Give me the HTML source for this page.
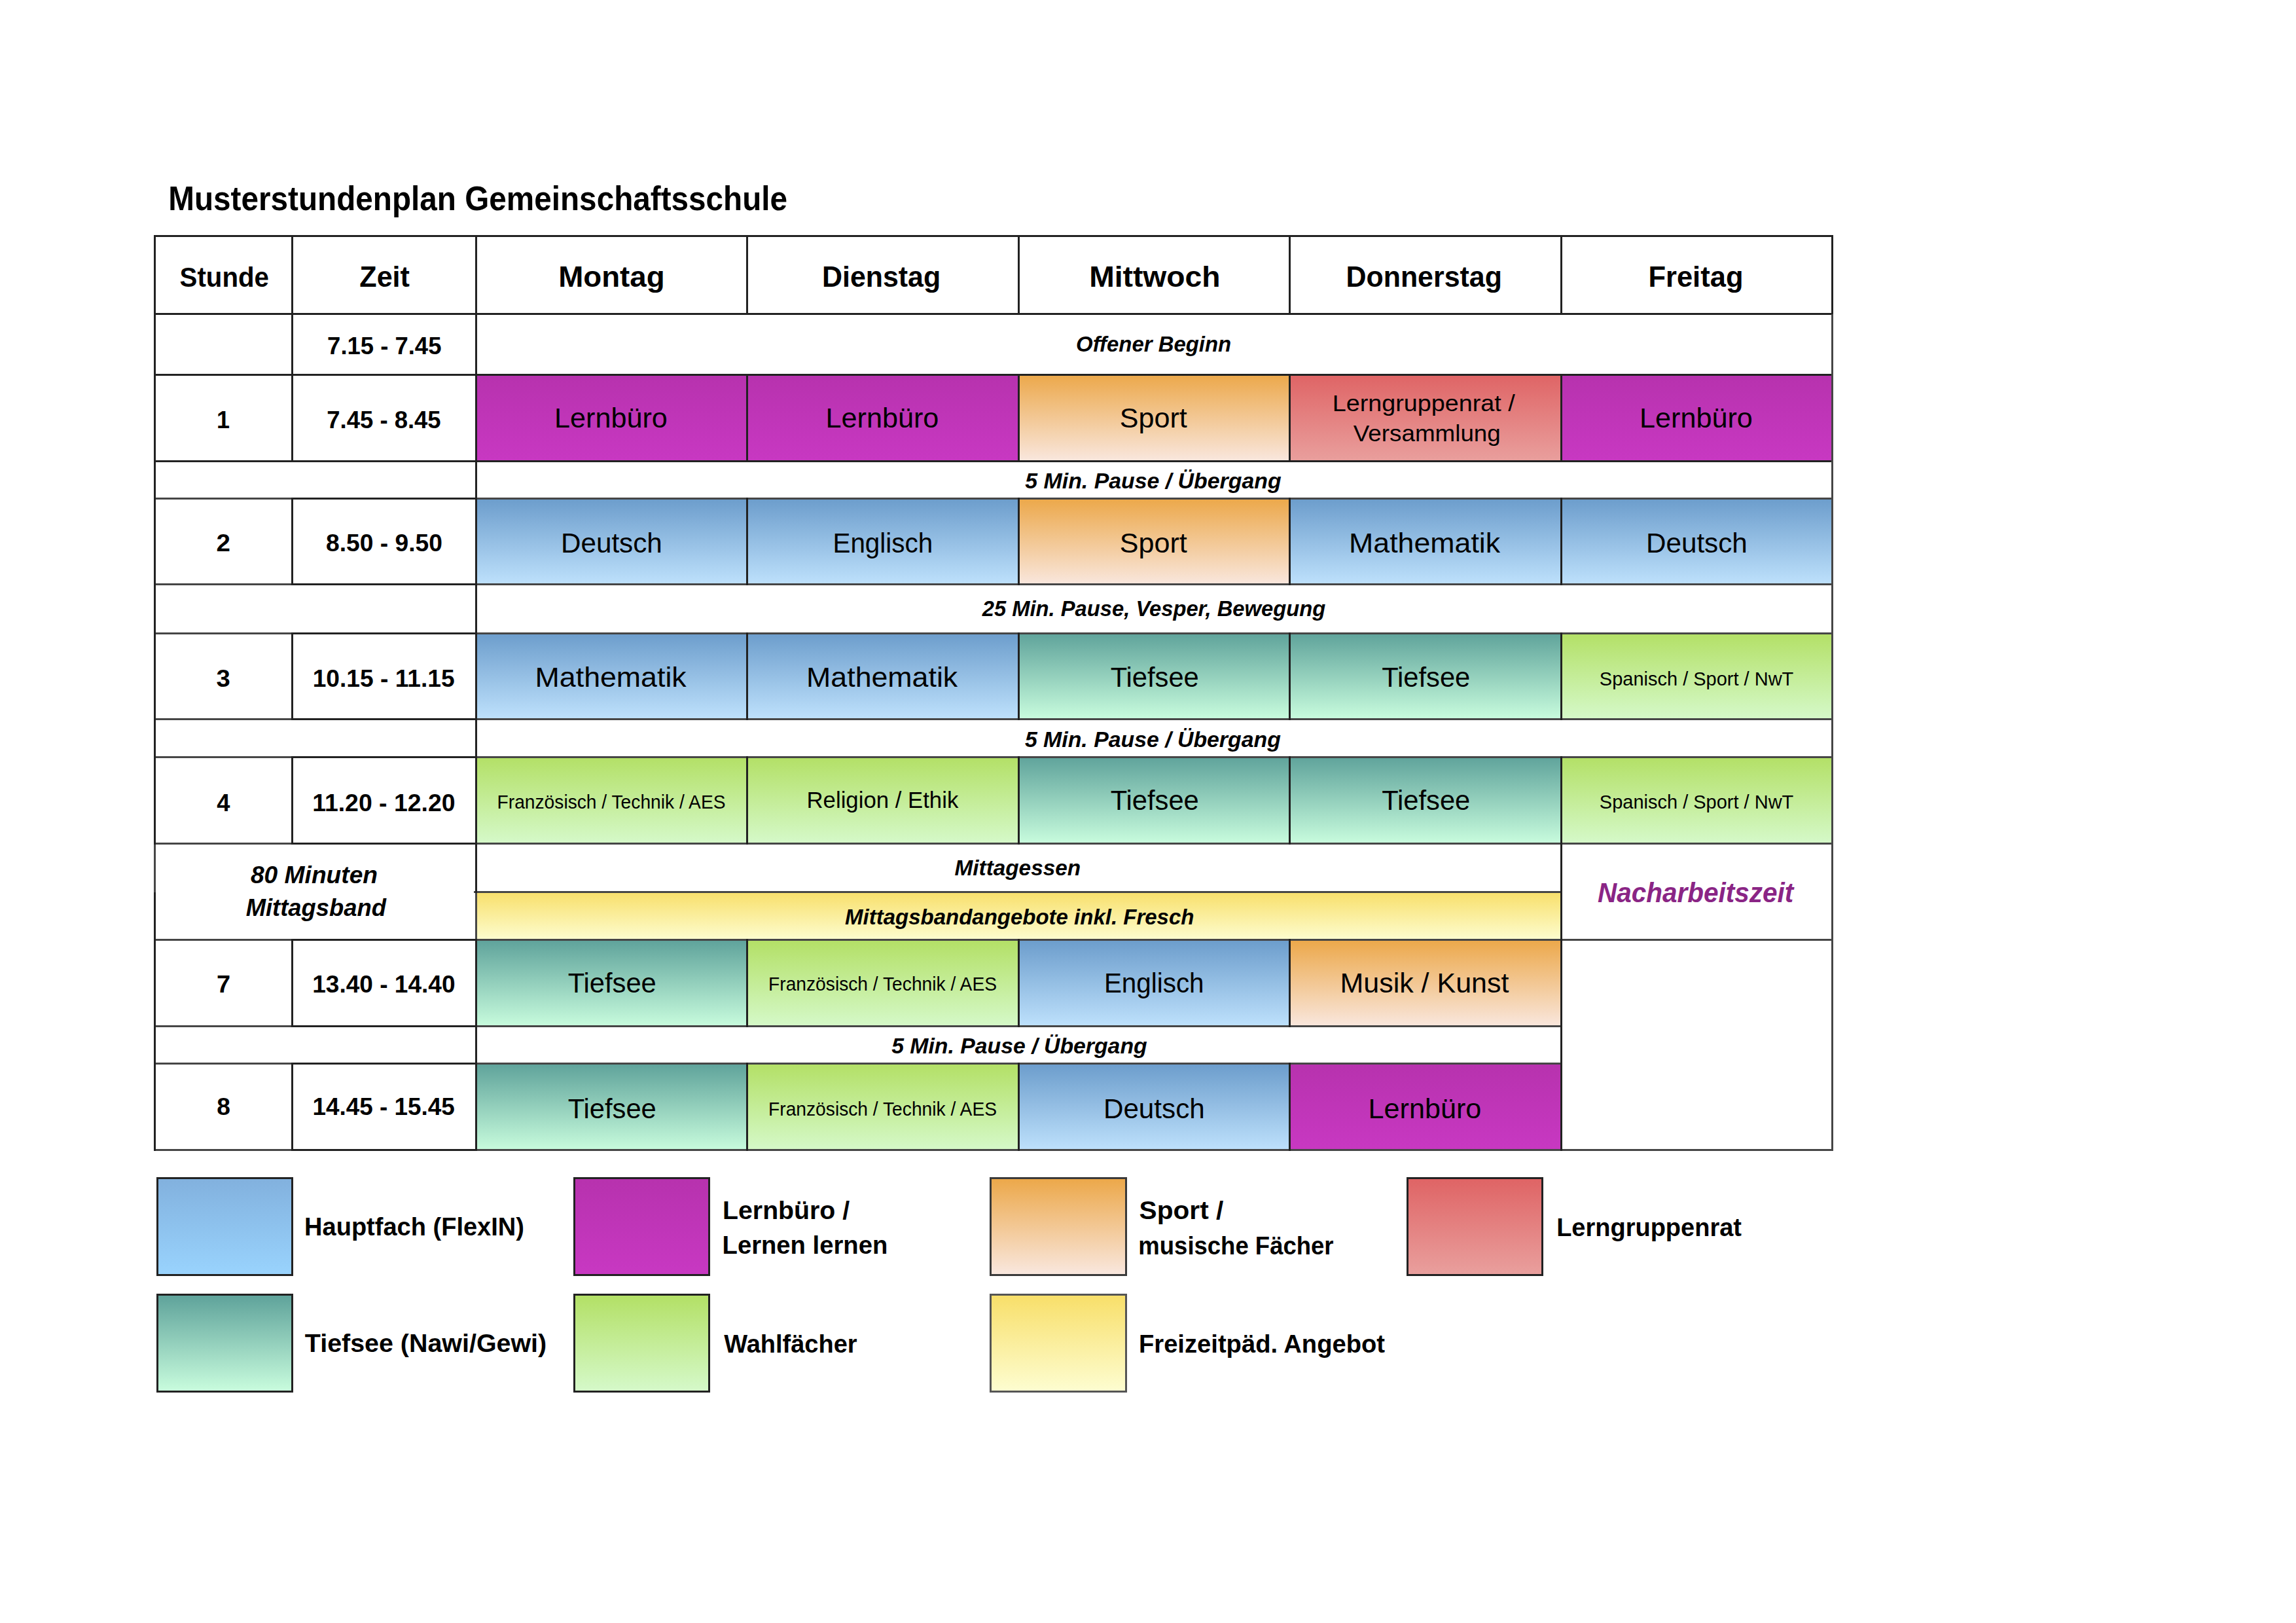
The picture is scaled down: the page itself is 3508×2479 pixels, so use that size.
<!DOCTYPE html>
<html lang="de">
<head>
<meta charset="utf-8">
<title>Musterstundenplan Gemeinschaftsschule</title>
<style>
html,body{margin:0;padding:0;background:#fff;}
body{width:3508px;height:2479px;position:relative;overflow:hidden;font-family:"Liberation Sans",sans-serif;color:#000;}
.c{position:absolute;display:flex;flex-direction:column;align-items:center;justify-content:center;text-align:center;white-space:nowrap;}
.c span,.lg span{display:block;}
.lg{position:absolute;display:flex;flex-direction:column;align-items:flex-start;justify-content:center;white-space:nowrap;}
.lg span{transform-origin:0 50%;}
.bx{position:absolute;box-sizing:border-box;border:3.0px solid #222222;}
.l{position:absolute;background:#222222;}
.t{position:absolute;white-space:nowrap;transform-origin:0 50%;}
.blue{background:linear-gradient(to bottom,#6c9dcc,#bee1fc);}
.blue2{background:linear-gradient(to bottom,#82b1de,#99d3fd);}
.mag{background:linear-gradient(to bottom,#b732ae,#c838c2);}
.org{background:linear-gradient(to bottom,#eca84a,#f9e7de);}
.red{background:linear-gradient(to bottom,#df6465,#e99f9d);}
.teal{background:linear-gradient(to bottom,#5fa39b,#c8fcdd);}
.grn{background:linear-gradient(to bottom,#b3e066,#d5f9c9);}
.yel{background:linear-gradient(to bottom,#f8df6a,#fdfdd0);}
.s-title{font-weight:bold;font-style:normal;font-size:50.9px;line-height:67px;}
.s-hS{font-weight:bold;font-style:normal;font-size:42.6px;line-height:56px;}
.s-hD{font-weight:bold;font-style:normal;font-size:44.2px;line-height:60px;}
.s-num{font-weight:bold;font-style:normal;font-size:37.0px;line-height:49px;}
.s-bi{font-weight:bold;font-style:italic;font-size:33.4px;line-height:46px;}
.s-cell{font-weight:normal;font-style:normal;font-size:42.3px;line-height:56px;}
.s-small{font-weight:normal;font-style:normal;font-size:29.4px;line-height:39px;}
.s-mid{font-weight:normal;font-style:normal;font-size:35.6px;line-height:46px;}
.s-mid2{font-weight:normal;font-style:normal;font-size:34.8px;line-height:46.0px;}
.s-mb{font-weight:bold;font-style:italic;font-size:36.0px;line-height:49.8px;}
.s-nach{font-weight:bold;font-style:italic;font-size:42.0px;line-height:56px;}
.s-leg{font-weight:bold;font-style:normal;font-size:39.5px;line-height:53.7px;}
</style>
</head>
<body>
<div class="lg s-title" id="title" style="left:258.0px;top:263.4px;height:80px;"><span style="transform:translate(-0.75px,0.00px) scaleX(0.9369);">Musterstundenplan Gemeinschaftsschule</span></div>
<div id="plan">
<div class="c s-hS" style="left:236.3px;top:360.9px;width:209.9px;height:118.1px;"><span style="transform:translate(1.57px,3.19px) scaleX(0.9439);">Stunde</span></div>
<div class="c s-hD" style="left:446.2px;top:360.9px;width:281.2px;height:118.1px;"><span style="transform:translate(0.34px,2.63px) scaleX(0.9754);">Zeit</span></div>
<div class="c s-hD" style="left:727.4px;top:360.9px;width:414.5px;height:118.1px;"><span style="transform:translate(-0.16px,2.63px) scaleX(1.0345);">Montag</span></div>
<div class="c s-hD" style="left:1141.9px;top:360.9px;width:414.5px;height:118.1px;"><span style="transform:translate(-2.73px,2.63px) scaleX(0.9708);">Dienstag</span></div>
<div class="c s-hD" style="left:1556.4px;top:360.9px;width:414.4px;height:118.1px;"><span style="transform:translate(0.59px,2.63px) scaleX(1.0464);">Mittwoch</span></div>
<div class="c s-hD" style="left:1970.8px;top:360.9px;width:414.6px;height:118.1px;"><span style="transform:translate(-2.07px,2.63px) scaleX(0.9709);">Donnerstag</span></div>
<div class="c s-hD" style="left:2385.4px;top:360.9px;width:414.5px;height:118.1px;"><span style="transform:translate(-1.72px,2.63px) scaleX(0.9848);">Freitag</span></div>
<div class="c s-cell" style="left:236.3px;top:479.0px;width:209.9px;height:93.4px;"></div>
<div class="c s-num" style="left:446.2px;top:479.0px;width:281.2px;height:93.4px;"><span style="transform:translate(0.81px,3.48px) scaleX(0.9853);">7.15 - 7.45</span></div>
<div class="c s-bi" style="left:727.4px;top:479.0px;width:2072.5px;height:93.4px;"><span style="transform:translate(-0.68px,0.23px) scaleX(0.9852);">Offener Beginn</span></div>
<div class="c s-num" style="left:236.3px;top:572.4px;width:209.9px;height:131.9px;"><span style="transform:translate(-0.39px,3.03px) scaleX(0.9721);">1</span></div>
<div class="c s-num" style="left:446.2px;top:572.4px;width:281.2px;height:131.9px;"><span style="transform:translate(0.01px,3.03px) scaleX(0.9853);">7.45 - 8.45</span></div>
<div class="c s-cell mag" style="left:727.4px;top:572.4px;width:414.5px;height:131.9px;"><span style="transform:translate(-1.20px,0.99px) scaleX(1.0205);">Lernbüro</span></div>
<div class="c s-cell mag" style="left:1141.9px;top:572.4px;width:414.5px;height:131.9px;"><span style="transform:translate(-0.70px,0.99px) scaleX(1.0205);">Lernbüro</span></div>
<div class="c s-cell org" style="left:1556.4px;top:572.4px;width:414.4px;height:131.9px;"><span style="transform:translate(-1.25px,0.99px) scaleX(1.0184);">Sport</span></div>
<div class="c s-mid2 red" style="left:1970.8px;top:572.4px;width:414.6px;height:131.9px;"><span style="transform:translate(-2.46px,0.99px) scaleX(1.0839);">Lerngruppenrat /</span><span style="transform:translate(1.93px,0.99px) scaleX(1.0577);">Versammlung</span></div>
<div class="c s-cell mag" style="left:2385.4px;top:572.4px;width:414.5px;height:131.9px;"><span style="transform:translate(-1.20px,0.99px) scaleX(1.0205);">Lernbüro</span></div>
<div class="c s-bi" style="left:727.4px;top:704.3px;width:2072.5px;height:57.3px;"><span style="transform:translate(-2.01px,1.98px) scaleX(1.0138);">5 Min. Pause / Übergang</span></div>
<div class="c s-num" style="left:236.3px;top:761.6px;width:209.9px;height:131.2px;"><span style="transform:translate(-0.14px,2.28px) scaleX(1.0409);">2</span></div>
<div class="c s-num" style="left:446.2px;top:761.6px;width:281.2px;height:131.2px;"><span style="transform:translate(0.47px,2.28px) scaleX(1.0060);">8.50 - 9.50</span></div>
<div class="c s-cell blue" style="left:727.4px;top:761.6px;width:414.5px;height:131.2px;"><span style="transform:translate(-0.20px,3.14px) scaleX(0.9979);">Deutsch</span></div>
<div class="c s-cell blue" style="left:1141.9px;top:761.6px;width:414.5px;height:131.2px;"><span style="transform:translate(-0.16px,3.14px) scaleX(0.9547);">Englisch</span></div>
<div class="c s-cell org" style="left:1556.4px;top:761.6px;width:414.4px;height:131.2px;"><span style="transform:translate(-1.25px,3.14px) scaleX(1.0184);">Sport</span></div>
<div class="c s-cell blue" style="left:1970.8px;top:761.6px;width:414.6px;height:131.2px;"><span style="transform:translate(-1.71px,3.14px) scaleX(1.0571);">Mathematik</span></div>
<div class="c s-cell blue" style="left:2385.4px;top:761.6px;width:414.5px;height:131.2px;"><span style="transform:translate(-0.20px,3.14px) scaleX(0.9979);">Deutsch</span></div>
<div class="c s-bi" style="left:727.4px;top:892.8px;width:2072.5px;height:74.3px;"><span style="transform:translate(-0.56px,0.18px) scaleX(0.9801);">25 Min. Pause, Vesper, Bewegung</span></div>
<div class="c s-num" style="left:236.3px;top:967.1px;width:209.9px;height:131.4px;"><span style="transform:translate(-0.05px,4.08px) scaleX(1.0328);">3</span></div>
<div class="c s-num" style="left:446.2px;top:967.1px;width:281.2px;height:131.4px;"><span style="transform:translate(-0.88px,4.08px) scaleX(1.0040);">10.15 - 11.15</span></div>
<div class="c s-cell blue" style="left:727.4px;top:967.1px;width:414.5px;height:131.4px;"><span style="transform:translate(-1.16px,1.94px) scaleX(1.0571);">Mathematik</span></div>
<div class="c s-cell blue" style="left:1141.9px;top:967.1px;width:414.5px;height:131.4px;"><span style="transform:translate(-1.66px,1.94px) scaleX(1.0571);">Mathematik</span></div>
<div class="c s-cell teal" style="left:1556.4px;top:967.1px;width:414.4px;height:131.4px;"><span style="transform:translate(0.61px,1.94px) scaleX(0.9851);">Tiefsee</span></div>
<div class="c s-cell teal" style="left:1970.8px;top:967.1px;width:414.6px;height:131.4px;"><span style="transform:translate(0.11px,1.94px) scaleX(0.9851);">Tiefsee</span></div>
<div class="c s-small grn" style="left:2385.4px;top:967.1px;width:414.5px;height:131.4px;"><span style="transform:translate(-0.19px,3.61px) scaleX(0.9863);">Spanisch / Sport / NwT</span></div>
<div class="c s-bi" style="left:727.4px;top:1098.5px;width:2072.5px;height:57.8px;"><span style="transform:translate(-2.61px,2.93px) scaleX(1.0128);">5 Min. Pause / Übergang</span></div>
<div class="c s-num" style="left:236.3px;top:1156.3px;width:209.9px;height:131.8px;"><span style="transform:translate(0.04px,3.58px) scaleX(0.9801);">4</span></div>
<div class="c s-num" style="left:446.2px;top:1156.3px;width:281.2px;height:131.8px;"><span style="transform:translate(-0.65px,3.58px) scaleX(1.0109);">11.20 - 12.20</span></div>
<div class="c s-small grn" style="left:727.4px;top:1156.3px;width:414.5px;height:131.8px;"><span style="transform:translate(-0.86px,2.01px) scaleX(0.9594);">Französisch / Technik / AES</span></div>
<div class="c s-mid grn" style="left:1141.9px;top:1156.3px;width:414.5px;height:131.8px;"><span style="transform:translate(-0.27px,0.16px) scaleX(0.9766);">Religion / Ethik</span></div>
<div class="c s-cell teal" style="left:1556.4px;top:1156.3px;width:414.4px;height:131.8px;"><span style="transform:translate(0.61px,1.34px) scaleX(0.9851);">Tiefsee</span></div>
<div class="c s-cell teal" style="left:1970.8px;top:1156.3px;width:414.6px;height:131.8px;"><span style="transform:translate(0.11px,1.34px) scaleX(0.9851);">Tiefsee</span></div>
<div class="c s-small grn" style="left:2385.4px;top:1156.3px;width:414.5px;height:131.8px;"><span style="transform:translate(-0.19px,2.01px) scaleX(0.9863);">Spanisch / Sport / NwT</span></div>
<div class="c s-mb" style="left:236.3px;top:1288.1px;width:491.1px;height:147.4px;"><span style="transform:translate(-2.03px,0.43px) scaleX(1.0327);">80 Minuten</span><span style="transform:translate(0.79px,0.43px) scaleX(1.0102);">Mittagsband</span></div>
<div class="c s-bi" style="left:727.4px;top:1288.1px;width:1658.0px;height:73.9px;"><span style="transform:translate(-1.69px,1.38px) scaleX(0.9977);">Mittagessen</span></div>
<div class="c s-nach" style="left:2385.4px;top:1288.1px;width:414.5px;height:147.4px;color:#8a2585;"><span style="transform:translate(-1.52px,2.25px) scaleX(0.9640);">Nacharbeitszeit</span></div>
<div class="c s-bi yel" style="left:727.4px;top:1362.0px;width:1658.0px;height:73.5px;"><span style="transform:translate(1.80px,2.18px) scaleX(0.9880);">Mittagsbandangebote inkl. Fresch</span></div>
<div class="c s-num" style="left:236.3px;top:1435.5px;width:209.9px;height:132.1px;"><span style="transform:translate(0.27px,2.13px) scaleX(1.0260);">7</span></div>
<div class="c s-num" style="left:446.2px;top:1435.5px;width:281.2px;height:132.1px;"><span style="transform:translate(-0.64px,2.13px) scaleX(1.0013);">13.40 - 14.40</span></div>
<div class="c s-cell teal" style="left:727.4px;top:1435.5px;width:414.5px;height:132.1px;"><span style="transform:translate(0.66px,-0.01px) scaleX(0.9851);">Tiefsee</span></div>
<div class="c s-small grn" style="left:1141.9px;top:1435.5px;width:414.5px;height:132.1px;"><span style="transform:translate(-0.36px,1.26px) scaleX(0.9594);">Französisch / Technik / AES</span></div>
<div class="c s-cell blue" style="left:1556.4px;top:1435.5px;width:414.4px;height:132.1px;"><span style="transform:translate(-0.71px,-0.01px) scaleX(0.9547);">Englisch</span></div>
<div class="c s-cell org" style="left:1970.8px;top:1435.5px;width:414.6px;height:132.1px;"><span style="transform:translate(-1.52px,-0.01px) scaleX(1.0157);">Musik / Kunst</span></div>
<div class="c s-bi" style="left:727.4px;top:1567.6px;width:1658.0px;height:57.3px;"><span style="transform:translate(1.44px,2.08px) scaleX(1.0118);">5 Min. Pause / Übergang</span></div>
<div class="c s-num" style="left:236.3px;top:1624.9px;width:209.9px;height:131.7px;"><span style="transform:translate(0.23px,0.43px) scaleX(1.0025);">8</span></div>
<div class="c s-num" style="left:446.2px;top:1624.9px;width:281.2px;height:131.7px;"><span style="transform:translate(-0.87px,0.43px) scaleX(0.9963);">14.45 - 15.45</span></div>
<div class="c s-cell teal" style="left:727.4px;top:1624.9px;width:414.5px;height:131.7px;"><span style="transform:translate(0.66px,3.09px) scaleX(0.9851);">Tiefsee</span></div>
<div class="c s-small grn" style="left:1141.9px;top:1624.9px;width:414.5px;height:131.7px;"><span style="transform:translate(-0.36px,3.06px) scaleX(0.9594);">Französisch / Technik / AES</span></div>
<div class="c s-cell blue" style="left:1556.4px;top:1624.9px;width:414.4px;height:131.7px;"><span style="transform:translate(-0.25px,3.09px) scaleX(0.9979);">Deutsch</span></div>
<div class="c s-cell mag" style="left:1970.8px;top:1624.9px;width:414.6px;height:131.7px;"><span style="transform:translate(-0.75px,3.09px) scaleX(1.0205);">Lernbüro</span></div>
<div class="l" style="left:234.8px;top:359.4px;width:2566.6px;height:3.0px;"></div>
<div class="l" style="left:234.8px;top:477.5px;width:2566.6px;height:3.0px;"></div>
<div class="l" style="left:234.8px;top:570.9px;width:2566.6px;height:3.0px;"></div>
<div class="l" style="left:234.8px;top:702.8px;width:2566.6px;height:3.0px;"></div>
<div class="l" style="left:234.8px;top:760.1px;width:2566.6px;height:3.0px;background:#464646;"></div>
<div class="l" style="left:234.8px;top:891.3px;width:2566.6px;height:3.0px;background:#464646;"></div>
<div class="l" style="left:234.8px;top:965.6px;width:2566.6px;height:3.0px;background:#464646;"></div>
<div class="l" style="left:234.8px;top:1097.0px;width:2566.6px;height:3.0px;background:#464646;"></div>
<div class="l" style="left:234.8px;top:1154.8px;width:2566.6px;height:3.0px;background:#464646;"></div>
<div class="l" style="left:234.8px;top:1286.6px;width:2566.6px;height:3.0px;background:#464646;"></div>
<div class="l" style="left:234.8px;top:1434.0px;width:2566.6px;height:3.0px;background:#464646;"></div>
<div class="l" style="left:234.8px;top:1755.1px;width:2566.6px;height:3.0px;background:#464646;"></div>
<div class="l" style="left:723.9px;top:1360.5px;width:1663.0px;height:3.0px;background:#464646;"></div>
<div class="l" style="left:234.8px;top:1566.1px;width:2152.1px;height:3.0px;background:#464646;"></div>
<div class="l" style="left:234.8px;top:1623.4px;width:2152.1px;height:3.0px;background:#464646;"></div>
<div class="l" style="left:444.7px;top:760.1px;width:284.2px;height:3.0px;"></div>
<div class="l" style="left:444.7px;top:891.3px;width:284.2px;height:3.0px;"></div>
<div class="l" style="left:444.7px;top:965.6px;width:284.2px;height:3.0px;"></div>
<div class="l" style="left:444.7px;top:1097.0px;width:284.2px;height:3.0px;"></div>
<div class="l" style="left:444.7px;top:1154.8px;width:284.2px;height:3.0px;"></div>
<div class="l" style="left:444.7px;top:1286.6px;width:284.2px;height:3.0px;"></div>
<div class="l" style="left:444.7px;top:1434.0px;width:284.2px;height:3.0px;"></div>
<div class="l" style="left:444.7px;top:1566.1px;width:284.2px;height:3.0px;"></div>
<div class="l" style="left:444.7px;top:1623.4px;width:284.2px;height:3.0px;"></div>
<div class="l" style="left:444.7px;top:1755.1px;width:284.2px;height:3.0px;"></div>
<div class="l" style="left:2798.4px;top:477.5px;width:3.0px;height:1280.6px;background:#464646;"></div>
<div class="l" style="left:2798.4px;top:359.4px;width:3.0px;height:121.1px;"></div>
<div class="l" style="left:234.8px;top:359.4px;width:3.0px;height:1398.7px;"></div>
<div class="l" style="left:725.9px;top:359.4px;width:3.0px;height:1398.7px;"></div>
<div class="l" style="left:234.8px;top:1289.6px;width:3.0px;height:73.9px;background:#464646;"></div>
<div class="l" style="left:725.9px;top:1363.5px;width:3.0px;height:70.5px;background:#464646;"></div>
<div class="l" style="left:444.7px;top:359.4px;width:3.0px;height:346.4px;"></div>
<div class="l" style="left:444.7px;top:760.1px;width:3.0px;height:134.2px;"></div>
<div class="l" style="left:444.7px;top:965.6px;width:3.0px;height:134.4px;"></div>
<div class="l" style="left:444.7px;top:1154.8px;width:3.0px;height:134.8px;"></div>
<div class="l" style="left:444.7px;top:1434.0px;width:3.0px;height:135.1px;"></div>
<div class="l" style="left:444.7px;top:1623.4px;width:3.0px;height:134.7px;"></div>
<div class="l" style="left:1140.4px;top:359.4px;width:3.0px;height:121.1px;"></div>
<div class="l" style="left:1140.4px;top:570.9px;width:3.0px;height:134.9px;"></div>
<div class="l" style="left:1140.4px;top:760.1px;width:3.0px;height:134.2px;"></div>
<div class="l" style="left:1140.4px;top:965.6px;width:3.0px;height:134.4px;"></div>
<div class="l" style="left:1140.4px;top:1154.8px;width:3.0px;height:134.8px;"></div>
<div class="l" style="left:1140.4px;top:1434.0px;width:3.0px;height:135.1px;"></div>
<div class="l" style="left:1140.4px;top:1623.4px;width:3.0px;height:134.7px;"></div>
<div class="l" style="left:1554.9px;top:359.4px;width:3.0px;height:121.1px;"></div>
<div class="l" style="left:1554.9px;top:570.9px;width:3.0px;height:134.9px;"></div>
<div class="l" style="left:1554.9px;top:760.1px;width:3.0px;height:134.2px;"></div>
<div class="l" style="left:1554.9px;top:965.6px;width:3.0px;height:134.4px;"></div>
<div class="l" style="left:1554.9px;top:1154.8px;width:3.0px;height:134.8px;"></div>
<div class="l" style="left:1554.9px;top:1434.0px;width:3.0px;height:135.1px;"></div>
<div class="l" style="left:1554.9px;top:1623.4px;width:3.0px;height:134.7px;"></div>
<div class="l" style="left:1969.3px;top:359.4px;width:3.0px;height:121.1px;"></div>
<div class="l" style="left:1969.3px;top:570.9px;width:3.0px;height:134.9px;"></div>
<div class="l" style="left:1969.3px;top:760.1px;width:3.0px;height:134.2px;"></div>
<div class="l" style="left:1969.3px;top:965.6px;width:3.0px;height:134.4px;"></div>
<div class="l" style="left:1969.3px;top:1154.8px;width:3.0px;height:134.8px;"></div>
<div class="l" style="left:1969.3px;top:1434.0px;width:3.0px;height:135.1px;"></div>
<div class="l" style="left:1969.3px;top:1623.4px;width:3.0px;height:134.7px;"></div>
<div class="l" style="left:2383.9px;top:359.4px;width:3.0px;height:121.1px;"></div>
<div class="l" style="left:2383.9px;top:570.9px;width:3.0px;height:134.9px;"></div>
<div class="l" style="left:2383.9px;top:760.1px;width:3.0px;height:134.2px;"></div>
<div class="l" style="left:2383.9px;top:965.6px;width:3.0px;height:134.4px;"></div>
<div class="l" style="left:2383.9px;top:1154.8px;width:3.0px;height:134.8px;"></div>
<div class="l" style="left:2383.9px;top:1286.6px;width:3.0px;height:471.5px;"></div>
</div>
<div id="legend">
<div class="bx blue2" style="left:238.9px;top:1797.9px;width:209.4px;height:151.0px;"></div>
<div class="lg s-leg" style="left:464.4px;top:1799.4px;height:148.0px;"><span style="transform:translate(1.08px,-0.09px) scaleX(0.9624);">Hauptfach (FlexIN)</span></div>
<div class="bx mag" style="left:875.5px;top:1797.9px;width:209.4px;height:151.0px;"></div>
<div class="lg s-leg" style="left:1101.0px;top:1799.4px;height:148.0px;"><span style="transform:translate(3.06px,2.26px) scaleX(0.9937);">Lernbüro /</span><span style="transform:translate(2.55px,2.46px) scaleX(0.9674);">Lernen lernen</span></div>
<div class="bx org" style="left:1512.3px;top:1797.9px;width:209.4px;height:151.0px;border-color:#3a3a3a;"></div>
<div class="lg s-leg" style="left:1737.8px;top:1799.4px;height:148.0px;"><span style="transform:translate(2.60px,2.26px) scaleX(1.0284);">Sport /</span><span style="transform:translate(1.36px,2.86px) scaleX(0.9238);">musische Fächer</span></div>
<div class="bx red" style="left:2149.1px;top:1797.9px;width:209.4px;height:151.0px;"></div>
<div class="lg s-leg" style="left:2374.6px;top:1799.4px;height:148.0px;"><span style="transform:translate(3.17px,0.51px) scaleX(0.9616);">Lerngruppenrat</span></div>
<div class="bx teal" style="left:238.9px;top:1975.5px;width:209.4px;height:151.0px;"></div>
<div class="lg s-leg" style="left:464.4px;top:1977.0px;height:148.0px;"><span style="transform:translate(1.86px,1.11px) scaleX(0.9974);">Tiefsee (Nawi/Gewi)</span></div>
<div class="bx grn" style="left:875.5px;top:1975.5px;width:209.4px;height:151.0px;"></div>
<div class="lg s-leg" style="left:1101.0px;top:1977.0px;height:148.0px;"><span style="transform:translate(5.25px,1.51px) scaleX(0.9615);">Wahlfächer</span></div>
<div class="bx yel" style="left:1512.3px;top:1975.5px;width:209.4px;height:151.0px;border-color:#555;"></div>
<div class="lg s-leg" style="left:1737.8px;top:1977.0px;height:148.0px;"><span style="transform:translate(1.97px,1.71px) scaleX(0.9663);">Freizeitpäd. Angebot</span></div>
</div>
</body>
</html>
